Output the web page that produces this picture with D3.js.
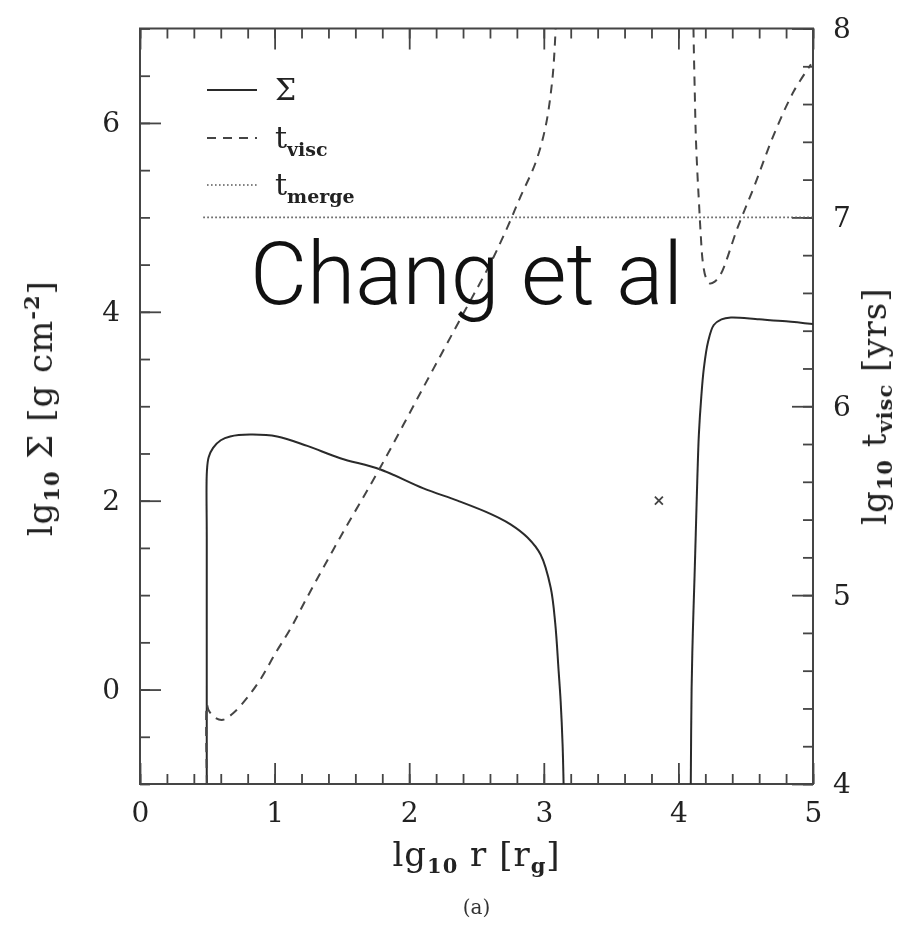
<!DOCTYPE html>
<html>
<head>
<meta charset="utf-8">
<script src="https://cdn.jsdelivr.net/npm/d3@7"></script>
<style>
  html, body { margin: 0; padding: 0; background: #fff; }
  svg { display: block; }
  .tick text { font-family: "DejaVu Serif", serif; fill: #222; }
</style>
</head>
<body>
<svg id="chart" width="903" height="928"></svg>
<script>
// Surface density (left axis, lg Σ) for the inner and outer disc
const sigmaInner = [
  [0.496, -1], [0.496, 1.6], [0.497, 2.31], [0.51, 2.46], [0.543, 2.56], [0.6, 2.64],
  [0.67, 2.68], [0.818, 2.70], [1.019, 2.68], [1.243, 2.58], [1.488, 2.45],
  [1.786, 2.33], [2.106, 2.13], [2.359, 2.00], [2.604, 1.86], [2.753, 1.75],
  [2.879, 1.61], [2.976, 1.43], [3.051, 1.08], [3.085, 0.70], [3.11, 0.20],
  [3.125, -0.12], [3.14, -0.6], [3.147, -1]
];
const sigmaOuter = [
  [4.092, -1], [4.098, 0], [4.107, 0.59], [4.12, 1.2], [4.129, 1.65], [4.14, 2.2],
  [4.152, 2.70], [4.17, 3.1], [4.189, 3.40], [4.22, 3.68], [4.263, 3.86],
  [4.32, 3.92], [4.39, 3.94], [4.6, 3.92], [4.8, 3.90], [5.0, 3.87]
];
// Viscous time (right axis, lg t_visc in years)
const tviscInner = [
  [0.497, 4.0], [0.497, 4.42], [0.51, 4.39], [0.56, 4.35], [0.617, 4.34],
  [0.7, 4.38], [0.8, 4.46], [0.9, 4.56], [1.004, 4.69], [1.116, 4.82],
  [1.243, 4.99], [1.488, 5.307], [1.786, 5.677], [2.106, 6.101], [2.403, 6.492],
  [2.604, 6.757], [2.731, 6.95], [2.827, 7.11], [2.939, 7.29], [3.013, 7.48],
  [3.065, 7.74], [3.088, 8.0]
];
const tviscOuter = [
  [4.112, 8.0], [4.115, 7.88], [4.122, 7.65], [4.129, 7.44], [4.14, 7.25],
  [4.152, 7.09], [4.165, 6.92], [4.182, 6.76], [4.205, 6.68], [4.234, 6.65],
  [4.27, 6.66], [4.315, 6.70], [4.442, 6.95], [4.561, 7.16], [4.710, 7.44],
  [4.859, 7.67], [4.985, 7.81]
];
// Merger time (right axis)
const tmerge = [[0.47, 7], [5, 7]];
// Single marked point (left axis)
const marker = [[3.855, 2.0]];

// Tick values
const xMajor = [0, 1, 2, 3, 4, 5];
const xMinor = d3.range(0, 5.001, 0.2);
const yLMajor = [0, 2, 4, 6];
const yLMinor = d3.range(-1, 7.001, 0.5);
const yRMajor = [4, 5, 6, 7, 8];
const yRMinor = d3.range(4, 8.001, 0.2);

const svg = d3.select("#chart");
const L = 140, R = 813, T = 28.5, B = 784;

const x = d3.scaleLinear([0, 5], [L, R]);
const yL = d3.scaleLinear([-1, 7], [B, T]);
const yR = d3.scaleLinear([4, 8], [B, T]);

const defs = svg.append("defs");
defs.append("clipPath").attr("id", "plotclip")
  .append("rect").attr("x", L).attr("y", T).attr("width", R - L).attr("height", B - T);
defs.append("filter").attr("id", "soft")
  .append("feGaussianBlur").attr("stdDeviation", 0.55);

const g = svg.append("g").attr("filter", "url(#soft)");

const ink = "#2a2a2a";
const major = 21, minor = 10, fs = 28;
const serif = "DejaVu Serif, serif";

function styleAxis(sel) {
  sel.select(".domain").remove();
  sel.selectAll(".tick line").attr("stroke", "#444").attr("stroke-width", 1.8);
  sel.selectAll(".tick text").attr("font-size", fs);
}

// bottom axis
g.append("g").attr("transform", `translate(0,${B})`)
  .call(d3.axisBottom(x).tickValues(xMinor).tickSize(-minor).tickFormat(""))
  .call(styleAxis);
g.append("g").attr("transform", `translate(0,${B})`)
  .call(d3.axisBottom(x).tickValues(xMajor).tickSize(-major).tickPadding(18).tickFormat(d3.format("d")))
  .call(styleAxis);
// top axis
g.append("g").attr("transform", `translate(0,${T})`)
  .call(d3.axisTop(x).tickValues(xMinor).tickSize(-minor).tickFormat(""))
  .call(styleAxis);
g.append("g").attr("transform", `translate(0,${T})`)
  .call(d3.axisTop(x).tickValues(xMajor).tickSize(-major).tickFormat(""))
  .call(styleAxis);
// left axis
g.append("g").attr("transform", `translate(${L},0)`)
  .call(d3.axisLeft(yL).tickValues(yLMinor).tickSize(-minor).tickFormat(""))
  .call(styleAxis);
g.append("g").attr("transform", `translate(${L},0)`)
  .call(d3.axisLeft(yL).tickValues(yLMajor).tickSize(-major).tickPadding(20).tickFormat(d3.format("d")))
  .call(styleAxis);
// right axis
g.append("g").attr("transform", `translate(${R},0)`)
  .call(d3.axisRight(yR).tickValues(yRMinor).tickSize(-minor).tickFormat(""))
  .call(styleAxis);
g.append("g").attr("transform", `translate(${R},0)`)
  .call(d3.axisRight(yR).tickValues(yRMajor).tickSize(-major).tickPadding(20).tickFormat(d3.format("d")))
  .call(styleAxis);

// frame
g.append("rect").attr("x", L).attr("y", T).attr("width", R - L).attr("height", B - T)
  .attr("fill", "none").attr("stroke", "#444").attr("stroke-width", 2);

const plot = g.append("g").attr("clip-path", "url(#plotclip)");
const lineL = d3.line().x(d => x(d[0])).y(d => yL(d[1])).curve(d3.curveCatmullRom.alpha(0.5));
const lineR = d3.line().x(d => x(d[0])).y(d => yR(d[1])).curve(d3.curveCatmullRom.alpha(0.5));

[sigmaInner, sigmaOuter].forEach(s =>
  plot.append("path").attr("d", lineL(s)).attr("fill", "none")
    .attr("stroke", ink).attr("stroke-width", 2));
[tviscInner, tviscOuter].forEach(s =>
  plot.append("path").attr("d", lineR(s)).attr("fill", "none")
    .attr("stroke", "#444").attr("stroke-width", 2).attr("stroke-dasharray", "9,7"));
plot.append("path").attr("d", d3.line().x(d => x(d[0])).y(d => yR(d[1]))(tmerge))
  .attr("fill", "none").attr("stroke", "#5a5a5a").attr("stroke-width", 1.7)
  .attr("stroke-dasharray", "1.6,2.4");

// cross marker
plot.selectAll(".mk").data(marker).enter().append("path")
  .attr("transform", d => `translate(${x(d[0])},${yL(d[1])})`)
  .attr("d", "M-4,-4L4,4M-4,4L4,-4").attr("stroke", "#444").attr("stroke-width", 1.8);

// legend
const legend = [
  { y: 90, dash: null, w: 2, c: ink, label: "Σ", sub: null },
  { y: 138, dash: "9,7", w: 2, c: "#444", label: "t", sub: "visc" },
  { y: 185, dash: "1.6,2.4", w: 1.7, c: "#5a5a5a", label: "t", sub: "merge" }
];
const lg = g.append("g");
legend.forEach(it => {
  lg.append("line").attr("x1", 207).attr("x2", 257).attr("y1", it.y).attr("y2", it.y)
    .attr("stroke", it.c).attr("stroke-width", it.w).attr("stroke-dasharray", it.dash);
  const t = lg.append("text").attr("x", 275).attr("y", it.y + 10)
    .attr("font-family", serif).attr("font-size", 30).attr("fill", "#222")
    .text(it.label);
  if (it.sub) t.append("tspan").attr("dy", 8).attr("font-size", 19).attr("font-weight", "bold").text(it.sub);
});

// axis titles
const F = 34, S = 21;
function title(sel, parts) {
  parts.forEach(p => {
    sel.append("tspan").attr("dy", p.dy || 0)
      .attr("font-size", p.sub ? S : F).attr("font-weight", p.sub ? "bold" : null)
      .text(p.t);
  });
}
const xt = g.append("text").attr("x", (L + R) / 2).attr("y", 866).attr("text-anchor", "middle")
  .attr("font-family", serif).attr("fill", "#222").attr("letter-spacing", 1);
title(xt, [{ t: "lg" }, { t: "10", sub: 1, dy: 7 }, { t: " r [r", dy: -7 }, { t: "g", sub: 1, dy: 7 }, { t: "]", dy: -7 }]);

g.append("text").attr("x", (L + R) / 2).attr("y", 914).attr("text-anchor", "middle")
  .attr("font-family", serif).attr("font-size", 20).attr("fill", "#333").text("(a)");

const yt = g.append("text").attr("transform", `translate(52,${(T + B) / 2 + 2}) rotate(-90)`)
  .attr("text-anchor", "middle").attr("font-family", serif).attr("fill", "#222").attr("letter-spacing", 1);
title(yt, [{ t: "lg" }, { t: "10", sub: 1, dy: 7 }, { t: " Σ [g cm", dy: -7 }, { t: "-2", sub: 1, dy: -13 }, { t: "]", dy: 13 }]);

const yt2 = g.append("text").attr("transform", `translate(886,${(T + B) / 2}) rotate(-90)`)
  .attr("text-anchor", "middle").attr("font-family", serif).attr("fill", "#222").attr("letter-spacing", 1);
title(yt2, [{ t: "lg" }, { t: "10", sub: 1, dy: 6 }, { t: " t", dy: -6 }, { t: "visc", sub: 1, dy: 6 }, { t: " [yrs]", dy: -6 }]);

// caption text across the plot
svg.append("text").attr("x", 250).attr("y", 304)
  .attr("font-family", "Roboto, Liberation Sans, sans-serif").attr("font-weight", 300)
  .attr("font-size", 88).attr("fill", "#111")
  .attr("textLength", 433).attr("lengthAdjust", "spacingAndGlyphs")
  .text("Chang et al");
</script>
</body>
</html>
